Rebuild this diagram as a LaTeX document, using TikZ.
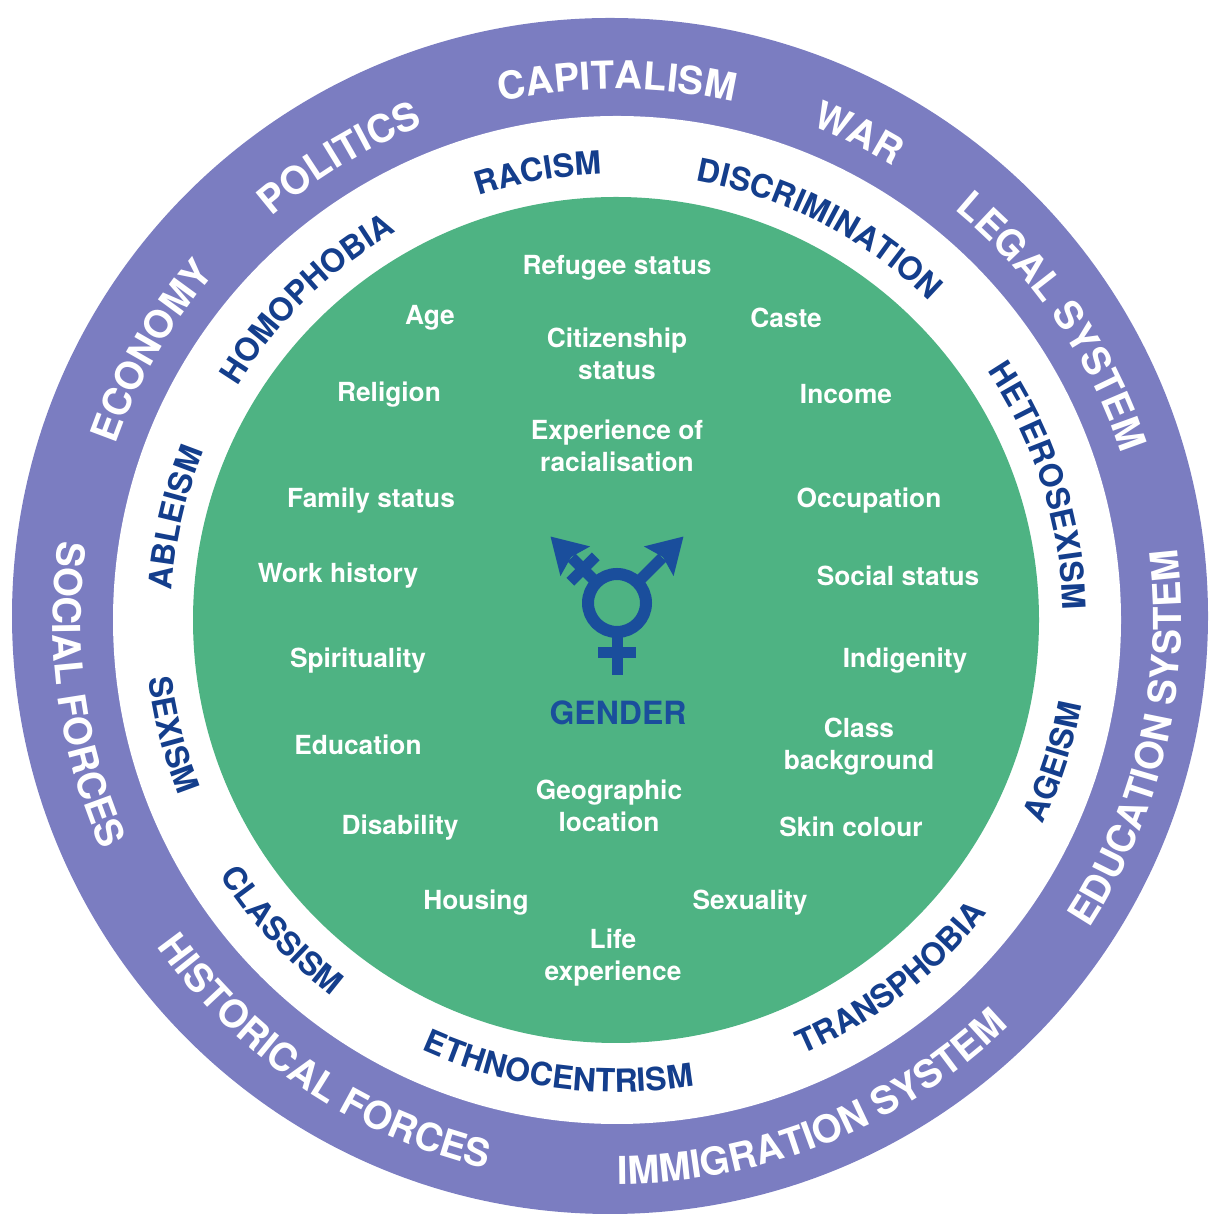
\documentclass[tikz,border=0pt]{standalone}
\usepackage{fontspec}
\setmainfont{TeX Gyre Heros}
\usetikzlibrary{decorations.text}
\definecolor{ringpurple}{RGB}{123,125,193}
\definecolor{coregreen}{RGB}{78,179,131}
\definecolor{inkblue}{RGB}{20,62,140}
\definecolor{symblue}{RGB}{26,78,156}
\newcommand\outfont{\fontsize{38.5}{42}\selectfont\bfseries}
\newcommand\innfont{\fontsize{32}{35}\selectfont\bfseries}
\newcommand\gfont{\fontsize{26.3}{32}\selectfont\bfseries}
% top-style arc text: clockwise, letter tops outward
\newcommand\toparc[5]{% #1 radius, #2 mid angle, #3 format, #4 text, #5 colour
  \path[shift={(T)},decorate,decoration={text along path,text align=center,
    text color=#5,text={|#3|#4}}]
    (#2+60:#1) arc[start angle=#2+60,end angle=#2-60,radius=#1];}
% bottom-style arc text: counter-clockwise, letter tops inward
\newcommand\botarc[5]{%
  \path[shift={(T)},decorate,decoration={text along path,text align=center,
    text color=#5,text={|#3|#4}}]
    (#2-60:#1) arc[start angle=#2-60,end angle=#2+60,radius=#1];}
\begin{document}
\begin{tikzpicture}[x=1pt,y=1pt,
  gtext/.style={text=white,font=\gfont,align=center,inner sep=0pt},
  symline/.style={draw=symblue,line width=11pt},
  symhead/.style={fill=symblue}]
\useasboundingbox (0,0) rectangle (1211,1222);
\coordinate (T) at (617,602);
% rings
\fill[ringpurple] (610,606) circle[radius=598];
\fill[white] (617,602) circle[radius=504];
\fill[coregreen] (616,602) circle[radius=423];
% outer ring texts
\toparc{531}{150}{\outfont}{ECONOMY}{white}
\toparc{531}{121}{\outfont}{POLITICS}{white}
\toparc{531}{90}{\outfont}{CAPITALISM}{white}
\toparc{531}{63.6}{\outfont}{WAR}{white}
\toparc{531}{34.4}{\outfont}{LEGAL SYSTEM}{white}
\botarc{564}{188}{\outfont}{SOCIAL FORCES}{white}
\botarc{564}{236}{\outfont}{HISTORICAL FORCES}{white}
\botarc{564}{292}{\outfont}{IMMIGRATION SYSTEM}{white}
\botarc{564}{347}{\outfont}{EDUCATION SYSTEM}{white}
% inner ring texts
\toparc{446}{167}{\innfont}{ABLEISM}{inkblue}
\toparc{446}{134}{\innfont}{HOMOPHOBIA}{inkblue}
\toparc{446}{100}{\innfont}{RACISM}{inkblue}
\toparc{446}{62.7}{\innfont}{DISCRIMINATION}{inkblue}
\toparc{446}{17.6}{\innfont}{HETEROSEXISM}{inkblue}
\botarc{472}{342}{\innfont}{AGEISM}{inkblue}
\botarc{472}{307.4}{\innfont}{TRANSPHOBIA}{inkblue}
\botarc{472}{262.5}{\innfont}{ETHNOCENTRISM}{inkblue}
\botarc{472}{222.8}{\innfont}{CLASSISM}{inkblue}
\botarc{472}{194.5}{\innfont}{SEXISM}{inkblue}
% green core texts
\node[gtext] (refugee) at (617,954) {Refugee status};
\node[gtext] (age) at (430,904) {Age};
\node[gtext] (caste) at (786,904) {Caste};
\node[gtext] (citizen) at (617,868) {Citizenship\\status};
\node[gtext] (religion) at (389,827) {Religion};
\node[gtext] (income) at (846,828) {Income};
\node[gtext] (racial) at (617,776) {Experience of\\racialisation};
\node[gtext] (family) at (371,721) {Family status};
\node[gtext] (occup) at (869,721) {Occupation};
\node[gtext] (work) at (338,646) {Work history};
\node[gtext] (social) at (898,646) {Social status};
\node[gtext] (spirit) at (358,561) {Spirituality};
\node[gtext] (indig) at (905,561) {Indigenity};
\node[gtext] (educ) at (358,477) {Education};
\node[gtext] (class) at (859,475) {Class\\background};
\node[gtext] (geo) at (609,416) {Geographic\\location};
\node[gtext] (disab) at (400,394) {Disability};
\node[gtext] (skin) at (851,395) {Skin colour};
\node[gtext] (housing) at (476,319) {Housing};
\node[gtext] (sexual) at (750,319) {Sexuality};
\node[gtext] (life) at (613,264) {Life\\experience};
\node[text=symblue,font=\fontsize{32}{35}\selectfont\bfseries,inner sep=0pt] (gender) at (618,509) {GENDER};
% transgender symbol
\coordinate (S) at (617,619);
\draw[symline,line width=12pt] (S) circle[radius=29];
\begin{scope}[shift={(S)},rotate=45]
  \draw[symline] (28,0) -- (64,0);
  \fill[symhead] (94,0) -- (59,21) -- (65,0) -- (59,-21) -- cycle;
\end{scope}
\begin{scope}[shift={(S)},rotate=135]
  \draw[symline] (28,0) -- (64,0);
  \fill[symhead] (94,0) -- (59,21) -- (65,0) -- (59,-21) -- cycle;
  \draw[symline] (48,-18) -- (48,18);
\end{scope}
\begin{scope}[shift={(S)},rotate=-90]
  \draw[symline] (28,0) -- (72,0);
  \draw[symline] (50,-19) -- (50,19);
\end{scope}
\end{tikzpicture}
\end{document}
